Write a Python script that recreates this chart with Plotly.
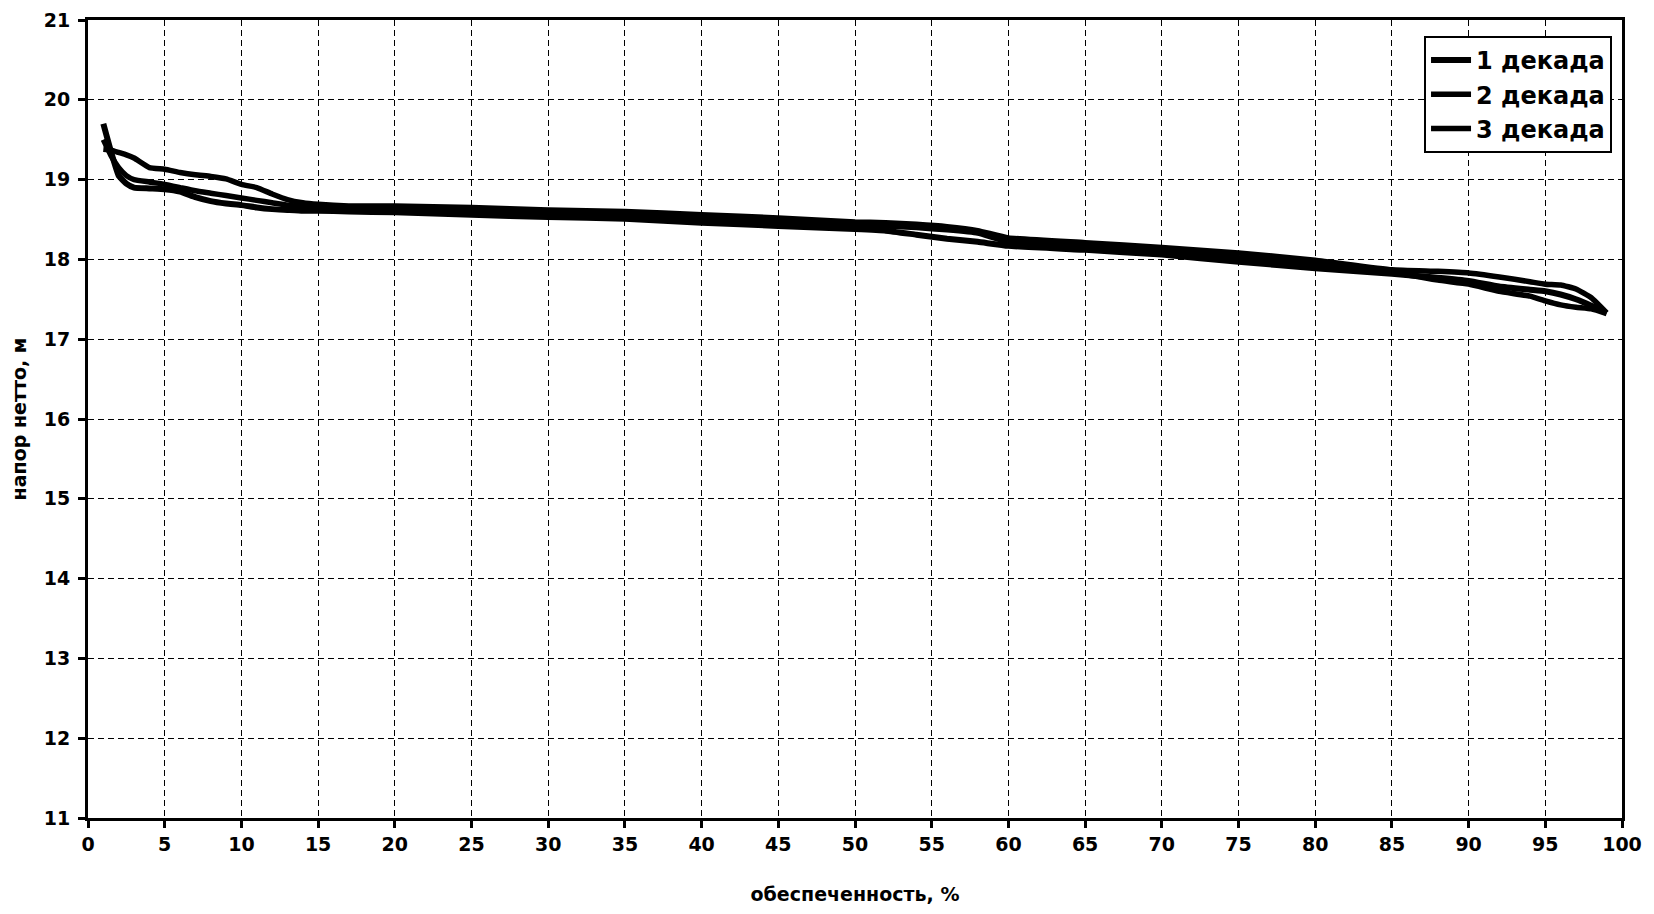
import plotly.graph_objects as go

# x positions (обеспеченность, %)
x_pct = [1, 1.5, 2, 2.5, 3, 4, 5, 6, 7, 8, 9, 10, 11, 12, 13, 14, 15, 17, 20, 25,
         30, 35, 40, 45, 50, 52, 54, 56, 58, 60, 65, 70, 75, 80, 85, 88, 90, 92,
         94, 95, 96, 97, 98, 99]

# напор нетто, м
dekada_1 = [19.70, 19.35, 19.05, 18.95, 18.90, 18.89, 18.88, 18.85, 18.78, 18.73,
            18.70, 18.68, 18.65, 18.63, 18.62, 18.61, 18.61, 18.60, 18.59, 18.56,
            18.53, 18.51, 18.46, 18.42, 18.38, 18.36, 18.31, 18.26, 18.22, 18.17,
            18.12, 18.06, 17.97, 17.89, 17.82, 17.77, 17.73, 17.66, 17.62, 17.60,
            17.56, 17.50, 17.42, 17.33]
dekada_2 = [19.50, 19.30, 19.15, 19.05, 19.00, 18.97, 18.94, 18.90, 18.86, 18.83,
            18.80, 18.77, 18.74, 18.71, 18.68, 18.66, 18.65, 18.64, 18.63, 18.61,
            18.58, 18.56, 18.51, 18.47, 18.43, 18.42, 18.40, 18.37, 18.33, 18.22,
            18.17, 18.11, 18.02, 17.94, 17.84, 17.74, 17.69, 17.60, 17.54, 17.48,
            17.43, 17.40, 17.38, 17.32]
dekada_3 = [19.38, 19.37, 19.34, 19.31, 19.27, 19.15, 19.13, 19.09, 19.06, 19.04,
            19.01, 18.94, 18.90, 18.82, 18.75, 18.71, 18.69, 18.67, 18.67, 18.65,
            18.62, 18.60, 18.56, 18.52, 18.47, 18.46, 18.44, 18.41, 18.36, 18.27,
            18.21, 18.15, 18.08, 17.99, 17.87, 17.85, 17.83, 17.78, 17.72, 17.69,
            17.68, 17.63, 17.52, 17.33]

series_names = ["1 декада", "2 декада", "3 декада"]
series_values = [dekada_1, dekada_2, dekada_3]
series_widths = [6, 5.5, 5.5]

x_ticks = list(range(0, 101, 5))
y_ticks = list(range(11, 22))

FONT = "DejaVu Sans, Liberation Sans, Arial, sans-serif"

fig = go.Figure()
for name, vals, w in zip(series_names, series_values, series_widths):
    fig.add_trace(go.Scatter(
        x=x_pct, y=vals, name=name, mode="lines",
        line=dict(color="black", width=w, shape="spline", smoothing=0.4),
    ))

fig.update_layout(
    width=1638, height=898,
    paper_bgcolor="white", plot_bgcolor="white",
    margin=dict(l=80, r=24, t=12, b=88),
    font=dict(family=FONT, color="black", size=19, weight="bold"),
    showlegend=True,
    legend=dict(
        x=0.9935, y=0.98, xanchor="right", yanchor="top",
        bgcolor="white", bordercolor="black", borderwidth=2,
        font=dict(family=FONT, size=24, color="black", weight="bold"),
        itemwidth=40,
    ),
)

fig.update_xaxes(
    range=[0, 100], tickvals=x_ticks, ticktext=[str(v) for v in x_ticks],
    showgrid=True, gridcolor="black", gridwidth=1, griddash="6px,4px",
    showline=True, linecolor="black", linewidth=3, mirror=True,
    ticks="outside", ticklen=7, tickwidth=3, tickcolor="black",
    tickfont=dict(family=FONT, size=19, weight="bold"),
    ticklabeloverflow="allow",
    zeroline=False, automargin=False,
    title=dict(text="обеспеченность, %", standoff=34,
               font=dict(family=FONT, size=19, weight="bold")),
)
fig.update_yaxes(
    range=[11, 21], tickvals=y_ticks, ticktext=[str(v) for v in y_ticks],
    showgrid=True, gridcolor="black", gridwidth=1, griddash="6px,4px",
    showline=True, linecolor="black", linewidth=3, mirror=True,
    ticks="outside", ticklen=7, tickwidth=3, tickcolor="black",
    tickfont=dict(family=FONT, size=19, weight="bold"),
    ticklabelstandoff=4, ticklabeloverflow="allow",
    zeroline=False, automargin=False,
    title=dict(text="напор нетто, м", standoff=13,
               font=dict(family=FONT, size=19, weight="bold")),
)

fig.write_html("out.html")
